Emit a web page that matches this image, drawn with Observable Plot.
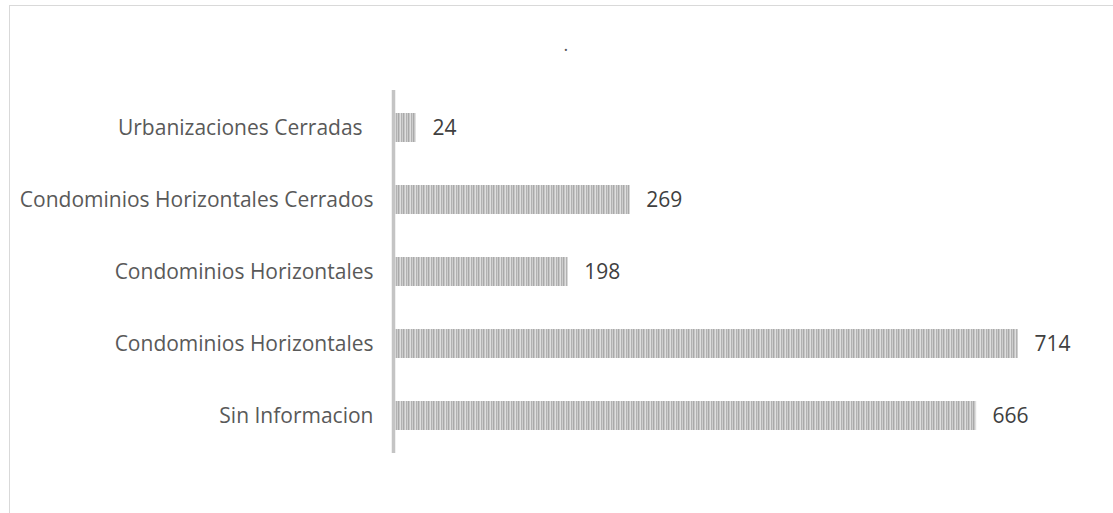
<!DOCTYPE html>
<html>
<head>
<meta charset="utf-8">
<script src="https://cdn.jsdelivr.net/npm/d3@7"></script>
<script src="https://cdn.jsdelivr.net/npm/@observablehq/plot@0.6"></script>
<style>
  html, body { margin: 0; padding: 0; background: #fff; overflow: hidden; }
  #wrap { position: relative; width: 1113px; height: 513px; }
  #border { position: absolute; left: 9px; top: 5px; width: 1300px; height: 700px;
            border: 1.5px solid #d9d9d9; box-sizing: border-box; pointer-events: none; }
  #chart { position: absolute; left: 0; top: 0; }
</style>
</head>
<body>
<div id="wrap"><div id="chart"></div><div id="border"></div></div>
<script>
const categories = [
  "Urbanizaciones Cerradas\u00a0\u00a0",
  "Condominios Horizontales Cerrados",
  "Condominios Horizontales",
  "Condominios Horizontales\u200b",
  "Sin Informacion"
];
const values = [24, 269, 198, 714, 666];
const title = ".";

const data = categories.map((c, i) => ({cat: c, value: values[i]}));

const chart = Plot.plot({
  width: 1113,
  height: 513,
  marginLeft: 395,
  marginRight: 20,
  marginTop: 90,
  marginBottom: 60,
  style: {fontFamily: "'Open Sans', sans-serif", background: "transparent"},
  x: {domain: [0, 800], axis: null},
  y: {domain: categories, paddingInner: 0.6, paddingOuter: 0.3, label: null, axis: null},
  marks: [
    Plot.axisY({tickSize: 0, tickPadding: 22, fontSize: 21, fill: "#595959", label: null,
      tickFormat: d => d}),
    Plot.barX(data, {x: "value", y: "cat", fill: "url(#stripes)"}),
    Plot.ruleX([0], {stroke: "#c4c4c4", strokeWidth: 3.5, dx: -2}),
    Plot.text(data, {x: "value", y: "cat", text: d => String(d.value), textAnchor: "start", dx: 16,
      fill: "#404040", fontSize: 21}),
    Plot.text([title], {frameAnchor: "top-left", dx: 168, dy: -52, text: d => d, fill: "#595959", fontSize: 18})
  ]
});

const ns = "http://www.w3.org/2000/svg";
const defs = document.createElementNS(ns, "defs");
const pat = document.createElementNS(ns, "pattern");
pat.setAttribute("id", "stripes");
pat.setAttribute("patternUnits", "userSpaceOnUse");
pat.setAttribute("width", "5");
pat.setAttribute("height", "10");
const cols = ["#dedede", "#b2b2b2", "#cdcdcd", "#a9a9a9", "#c6c6c6"];
cols.forEach((c, i) => {
  const r = document.createElementNS(ns, "rect");
  r.setAttribute("x", i); r.setAttribute("y", 0);
  r.setAttribute("width", 1); r.setAttribute("height", 10);
  r.setAttribute("fill", c);
  pat.appendChild(r);
});
defs.appendChild(pat);
chart.insertBefore(defs, chart.firstChild);
document.getElementById("chart").appendChild(chart);
</script>
</body>
</html>
